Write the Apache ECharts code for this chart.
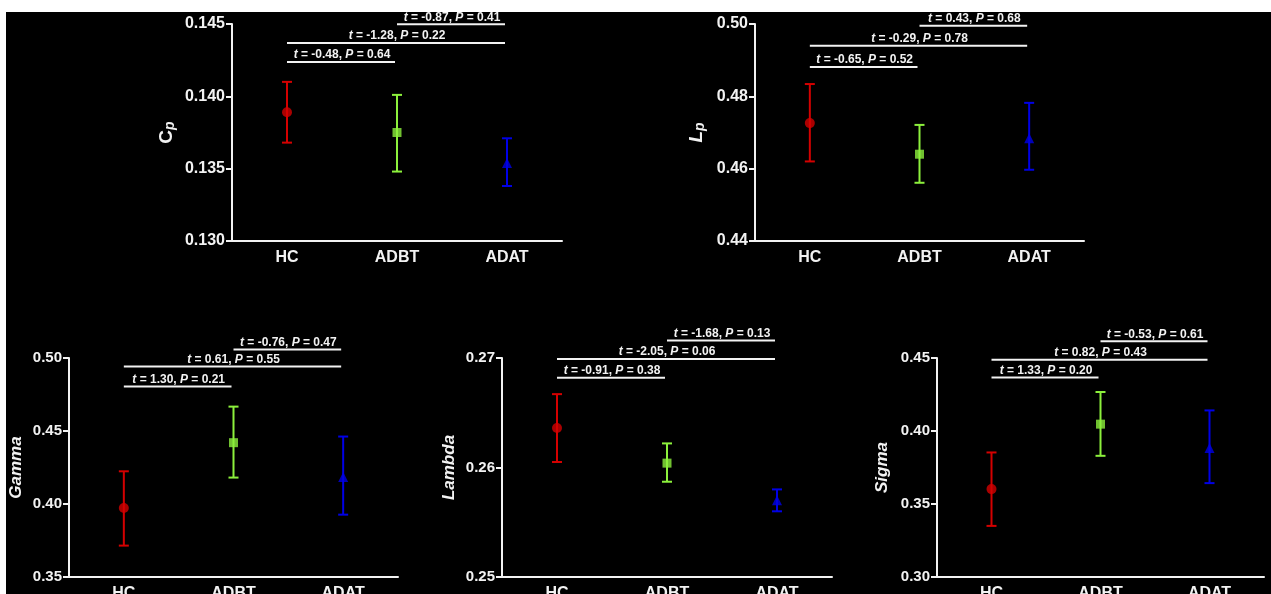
<!DOCTYPE html>
<html>
<head>
<meta charset="utf-8">
<script src="https://cdn.jsdelivr.net/npm/echarts@6/dist/echarts.min.js"></script>
<style>
  html, body { margin: 0; padding: 0; background: #ffffff; width: 100%; height: 100%; overflow: hidden; }
  #main { position: absolute; left: 6px; top: 12px; width: 1265px; height: 582px; background: #000; }
</style>
</head>
<body>
<div id="main"></div>
<script>
// 分组
const groups = ['HC', 'ADBT', 'ADAT'];
const groupColors = ['#d40000', '#8cf03c', '#0000e6'];
const groupSymbols = ['circle', 'rect', 'triangle'];
// 比较对 (组索引)
const bracketPairs = [[0, 1], [0, 2], [1, 2]];

// Cp
const cpMean = [0.1389, 0.1375, 0.1354];
const cpLow = [0.1368, 0.1348, 0.1338];
const cpHigh = [0.1410, 0.1401, 0.1371];
const cpT = ['-0.48', '-1.28', '-0.87'];
const cpP = ['0.64', '0.22', '0.41'];
const cpBracketY = [0.14237, 0.14369, 0.14498];

// Lp
const lpMean = [0.4726, 0.4640, 0.4684];
const lpLow = [0.4620, 0.4561, 0.4597];
const lpHigh = [0.4834, 0.4721, 0.4782];
const lpT = ['-0.65', '-0.29', '0.43'];
const lpP = ['0.52', '0.78', '0.68'];
const lpBracketY = [0.4881, 0.4940, 0.4995];

// Gamma
const gammaMean = [0.3973, 0.4420, 0.4185];
const gammaLow = [0.3715, 0.4181, 0.3927];
const gammaHigh = [0.4224, 0.4667, 0.4462];
const gammaT = ['1.30', '0.61', '-0.76'];
const gammaP = ['0.21', '0.55', '0.47'];
const gammaBracketY = [0.4804, 0.4941, 0.5058];

// Lambda
const lambdaMean = [0.2636, 0.2604, 0.2570];
const lambdaLow = [0.2605, 0.2587, 0.2560];
const lambdaHigh = [0.2667, 0.2622, 0.2580];
const lambdaT = ['-0.91', '-2.05', '-1.68'];
const lambdaP = ['0.38', '0.06', '0.13'];
const lambdaBracketY = [0.2682, 0.2699, 0.2716];

// Sigma
const sigmaMean = [0.3602, 0.4047, 0.3883];
const sigmaLow = [0.3350, 0.3830, 0.3643];
const sigmaHigh = [0.3853, 0.4267, 0.4141];
const sigmaT = ['1.33', '0.82', '-0.53'];
const sigmaP = ['0.20', '0.43', '0.61'];
const sigmaBracketY = [0.4367, 0.4488, 0.4614];

// y轴刻度
const cpTicks = { min: 0.130, max: 0.145, interval: 0.005, dec: 3 };
const lpTicks = { min: 0.44, max: 0.50, interval: 0.02, dec: 2 };
const gammaTicks = { min: 0.35, max: 0.50, interval: 0.05, dec: 2 };
const lambdaTicks = { min: 0.25, max: 0.27, interval: 0.01, dec: 2 };
const sigmaTicks = { min: 0.30, max: 0.45, interval: 0.05, dec: 2 };

const FONT = '"Liberation Sans", Arial, sans-serif';
const WHITE = '#f2f2f2';

const panels = [
  { name: '{c|C}{p|p}', nameGap: 55, grid: { left: 226, top: 12, width: 330, height: 217 }, ticks: cpTicks,
    mean: cpMean, low: cpLow, high: cpHigh, t: cpT, p: cpP, by: cpBracketY, italicMain: false, fs: 16, nfs: 19 },
  { name: '{c|L}{p|p}', nameGap: 48, grid: { left: 749, top: 12, width: 329, height: 217 }, ticks: lpTicks,
    mean: lpMean, low: lpLow, high: lpHigh, t: lpT, p: lpP, by: lpBracketY, italicMain: true, fs: 16, nfs: 19 },
  { name: '{c|Gamma}', nameGap: 43, grid: { left: 63, top: 346, width: 329, height: 219 }, ticks: gammaTicks,
    mean: gammaMean, low: gammaLow, high: gammaHigh, t: gammaT, p: gammaP, by: gammaBracketY, italicMain: true, fs: 15, nfs: 17 },
  { name: '{c|Lambda}', nameGap: 43, grid: { left: 496, top: 346, width: 330, height: 219 }, ticks: lambdaTicks,
    mean: lambdaMean, low: lambdaLow, high: lambdaHigh, t: lambdaT, p: lambdaP, by: lambdaBracketY, italicMain: true, fs: 15, nfs: 17 },
  { name: '{c|Sigma}', nameGap: 45, grid: { left: 931, top: 346, width: 327, height: 219 }, ticks: sigmaTicks,
    mean: sigmaMean, low: sigmaLow, high: sigmaHigh, t: sigmaT, p: sigmaP, by: sigmaBracketY, italicMain: true, fs: 15, nfs: 17 }
];

const myChart = echarts.init(document.getElementById('main'));

const grid = [], xAxis = [], yAxis = [], series = [];

panels.forEach(function (pn, k) {
  grid.push(Object.assign({ containLabel: false, outerBoundsMode: 'none' }, pn.grid));
  xAxis.push({
    type: 'category', gridIndex: k, data: groups, boundaryGap: true,
    axisLine: { lineStyle: { color: WHITE, width: 2 } },
    axisTick: { alignWithLabel: true, length: 6, lineStyle: { color: WHITE, width: 2 } },
    axisLabel: { color: WHITE, fontSize: 16, fontWeight: 'bold', fontFamily: FONT, margin: 9 },
    splitLine: { show: false }
  });
  yAxis.push({
    type: 'value', gridIndex: k,
    min: pn.ticks.min, max: pn.ticks.max, interval: pn.ticks.interval,
    name: pn.name, nameLocation: 'middle', nameGap: pn.nameGap, nameRotate: 90,
    nameTextStyle: {
      color: WHITE,
      rich: {
        c: { fontSize: pn.nfs, fontWeight: 'bold', fontStyle: pn.italicMain ? 'italic' : 'normal', fontFamily: FONT, color: WHITE, lineHeight: 20, verticalAlign: 'middle' },
        p: { fontSize: 14, fontWeight: 'bold', fontStyle: 'italic', fontFamily: FONT, color: WHITE, lineHeight: 12, verticalAlign: 'bottom' }
      }
    },
    axisLine: { show: true, lineStyle: { color: WHITE, width: 2 } },
    axisTick: { show: true, length: 6, lineStyle: { color: WHITE, width: 2 } },
    axisLabel: {
      color: WHITE, fontSize: pn.fs, fontWeight: 'bold', fontFamily: FONT, margin: 7,
      formatter: function (v) { return v.toFixed(pn.ticks.dec); }
    },
    splitLine: { show: false }
  });

  // 误差线
  series.push({
    type: 'custom', xAxisIndex: k, yAxisIndex: k,
    data: groups.map(function (g, i) { return [i, pn.low[i], pn.high[i]]; }),
    renderItem: function (params, api) {
      const i = api.value(0);
      const lo = api.coord([i, api.value(1)]);
      const hi = api.coord([i, api.value(2)]);
      const c = groupColors[params.dataIndex];
      const cap = 5;
      const st = { stroke: c, lineWidth: 2 };
      return {
        type: 'group',
        children: [
          { type: 'line', shape: { x1: lo[0], y1: lo[1], x2: hi[0], y2: hi[1] }, style: st },
          { type: 'line', shape: { x1: lo[0] - cap, y1: lo[1], x2: lo[0] + cap, y2: lo[1] }, style: st },
          { type: 'line', shape: { x1: hi[0] - cap, y1: hi[1], x2: hi[0] + cap, y2: hi[1] }, style: st }
        ]
      };
    },
    z: 2
  });

  // 均值
  series.push({
    type: 'scatter', xAxisIndex: k, yAxisIndex: k,
    data: groups.map(function (g, i) {
      return {
        value: [i, pn.mean[i]],
        symbol: groupSymbols[i],
        symbolSize: groupSymbols[i] === 'rect' ? 9 : 10,
        itemStyle: { color: groupColors[i] }
      };
    }),
    z: 3
  });

  // 比较括号
  series.push({
    type: 'custom', xAxisIndex: k, yAxisIndex: k, clip: false,
    data: bracketPairs.map(function (pr, j) { return [pr[0], pr[1], pn.by[j]]; }),
    renderItem: function (params, api) {
      const a = api.coord([api.value(0), api.value(2)]);
      const b = api.coord([api.value(1), api.value(2)]);
      const j = params.dataIndex;
      return {
        type: 'group',
        children: [
          { type: 'line', shape: { x1: a[0], y1: a[1], x2: b[0] - 2, y2: b[1] }, style: { stroke: WHITE, lineWidth: 2 } },
          {
            type: 'text',
            style: {
              x: (a[0] + b[0]) / 2, y: a[1] - 1,
              text: '{i|t}{n| = ' + pn.t[j] + ', }{i|P}{n| = ' + pn.p[j] + '}',
              align: 'center', verticalAlign: 'bottom',
              fill: WHITE,
              rich: {
                i: { fontSize: 12, fontWeight: 'bold', fontStyle: 'italic', fontFamily: FONT, fill: WHITE },
                n: { fontSize: 12, fontWeight: 'bold', fontFamily: FONT, fill: WHITE }
              }
            }
          }
        ]
      };
    },
    z: 4
  });
});

const option = {
  backgroundColor: '#000000',
  animation: false,
  grid: grid,
  xAxis: xAxis,
  yAxis: yAxis,
  series: series
};

myChart.setOption(option);
window.addEventListener('resize', function () {
  myChart.resize();
});
</script>
</body>
</html>
